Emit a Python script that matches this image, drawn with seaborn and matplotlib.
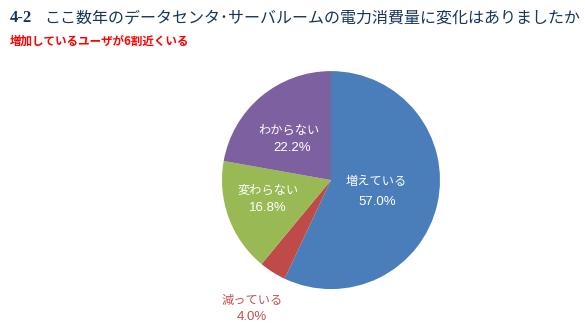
import matplotlib
matplotlib.use("Agg")
import matplotlib.pyplot as plt
import seaborn as sns

categories = ["増えている", "減っている", "変わらない", "わからない"]
values = [57.0, 4.0, 16.8, 22.2]
colors = ["#4A7EBB", "#BE4B48", "#98B954", "#7D60A0"]
title_num = "4-2"
title = "ここ数年のデータセンタ･サーバルームの電力消費量に変化はありましたか"
subtitle = "増加しているユーザが6割近くいる"

sns.set_theme(style="white")
plt.rcParams['font.family'] = ['Noto Sans CJK JP', 'DejaVu Sans']

fig = plt.figure(figsize=(5.85, 3.3), dpi=100)
ax = fig.add_axes([0.3795, 0.124, 0.3726, 0.6606])
wedges, _ = ax.pie(values, colors=colors, startangle=90, counterclock=False,
                   wedgeprops=dict(linewidth=0))
ax.set_xlim(-1, 1)
ax.set_ylim(-1, 1)
ax.set_aspect("equal")

W, H = 585, 330
def ft(x, y, s, **kw):
    fig.text(x / W, 1 - y / H, s, **kw)

ft(10, 18, title_num, fontsize=12, fontweight="bold", color="#17365D",
   family=["Liberation Serif"], va="center", ha="left")
ft(44, 18, title, fontsize=11.5, color="#17365D", va="center", ha="left")
ft(10, 41, subtitle, fontsize=8.3, fontweight="bold", color="#FF0000", va="center", ha="left")

# in-slice labels
label_pos = [(376, 181, 377, 202, "white"),
             (252, 300, 252, 317, "#C0504D"),
             (268, 190, 268, 208, "white"),
             (289, 130, 292, 148, "white")]
for cat, v, (x1, y1, x2, y2, c) in zip(categories, values, label_pos):
    ft(x1, y1, cat, fontsize=8.8, color=c, ha="center", va="center")
    ft(x2, y2, f"{v:.1f}%", fontsize=9.5, color=c, ha="center", va="center",
       family=["Liberation Sans"])

fig.savefig("out.png", dpi=100)
